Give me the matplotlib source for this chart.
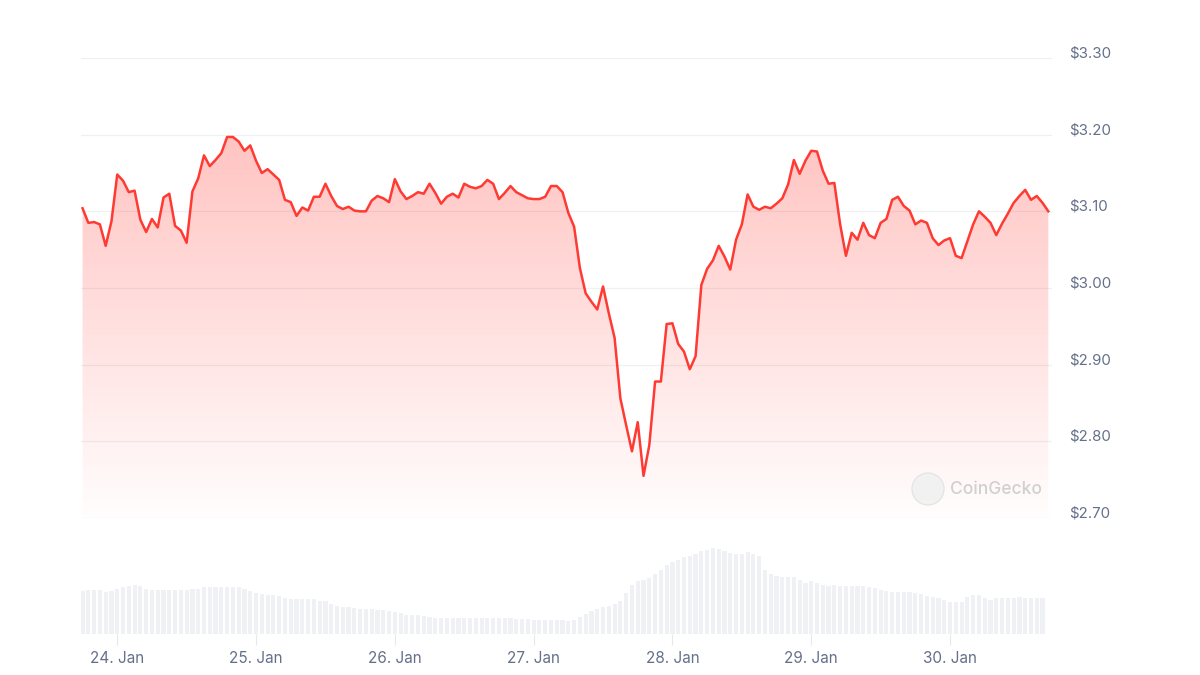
import numpy as np
import pandas as pd
import matplotlib
matplotlib.use("Agg")
import matplotlib.pyplot as plt
import matplotlib.dates as mdates
import matplotlib.transforms as mtransforms
from matplotlib.patches import Ellipse
from matplotlib.colors import LinearSegmentedColormap

plt.rcParams['font.family'] = ['Inter', 'DejaVu Sans']

# hourly price (USD), starting 23 Jan 18:00
start = pd.Timestamp("2025-01-23 18:00")
prices = [
    3.104, 3.085, 3.086, 3.083, 3.055, 3.087, 3.148, 3.140, 3.125, 3.127,
    3.089, 3.073, 3.090, 3.079, 3.118, 3.123, 3.081, 3.075, 3.059, 3.126,
    3.143, 3.173, 3.159, 3.167, 3.176, 3.197, 3.197, 3.191, 3.179, 3.186,
    3.166, 3.150, 3.155, 3.148, 3.141, 3.115, 3.112, 3.094, 3.105, 3.101,
    3.119, 3.119, 3.136, 3.120, 3.107, 3.103, 3.106, 3.101, 3.100, 3.100,
    3.114, 3.120, 3.117, 3.112, 3.142, 3.126, 3.116, 3.120, 3.125, 3.123,
    3.136, 3.124, 3.110, 3.119, 3.123, 3.118, 3.136, 3.132, 3.130, 3.133,
    3.141, 3.136, 3.116, 3.124, 3.133, 3.125, 3.121, 3.117, 3.116, 3.116,
    3.119, 3.133, 3.133, 3.125, 3.098, 3.080, 3.026, 2.993, 2.982, 2.972,
    3.002, 2.967, 2.935, 2.856, 2.821, 2.787, 2.825, 2.755, 2.795, 2.878,
    2.878, 2.953, 2.954, 2.927, 2.917, 2.894, 2.911, 3.004, 3.025, 3.036,
    3.055, 3.041, 3.024, 3.063, 3.083, 3.122, 3.106, 3.102, 3.106, 3.104,
    3.110, 3.117, 3.135, 3.167, 3.149, 3.166, 3.179, 3.178, 3.153, 3.136,
    3.137, 3.083, 3.042, 3.072, 3.063, 3.085, 3.069, 3.065, 3.085, 3.090,
    3.115, 3.119, 3.107, 3.101, 3.083, 3.088, 3.085, 3.065, 3.056, 3.062,
    3.065, 3.042, 3.039, 3.061, 3.083, 3.100, 3.093, 3.085, 3.069, 3.084,
    3.097, 3.111, 3.120, 3.128, 3.115, 3.120, 3.111, 3.100,
]

# hourly volume (arbitrary units)
volumes = [
    42.7, 44.3, 44.3, 44.3, 41.7, 43.3, 45.3, 46.7, 47.7, 49.3,
    48.3, 45.3, 44.3, 44.3, 44.3, 44.3, 44.3, 44.3, 44.3, 45.3,
    45.3, 46.7, 46.7, 46.7, 46.7, 46.7, 46.7, 46.7, 45.3, 42.7,
    41.0, 40.3, 39.3, 39.3, 38.3, 36.0, 35.0, 35.0, 35.0, 35.0,
    35.0, 33.3, 32.7, 30.0, 28.3, 27.0, 27.0, 26.0, 25.0, 25.0,
    25.0, 23.7, 23.7, 22.7, 21.7, 21.0, 19.3, 19.3, 18.7, 17.7,
    17.0, 16.0, 16.0, 16.0, 16.0, 16.0, 16.0, 16.0, 16.0, 16.0,
    16.0, 16.0, 16.0, 16.0, 16.0, 15.0, 15.0, 15.0, 14.3, 14.3,
    14.3, 14.3, 14.3, 14.3, 13.3, 14.3, 17.0, 20.3, 23.3, 25.3,
    27.0, 27.7, 30.3, 33.3, 41.0, 48.7, 52.7, 53.7, 56.0, 60.3,
    64.3, 69.3, 71.7, 74.3, 77.0, 78.3, 80.3, 82.7, 84.3, 86.0,
    85.0, 82.7, 81.0, 80.3, 80.3, 81.7, 80.3, 77.7, 64.3, 60.0,
    58.3, 57.0, 57.0, 57.0, 54.3, 51.0, 52.7, 51.0, 49.3, 48.3,
    49.3, 48.3, 47.7, 48.3, 47.7, 47.7, 47.0, 46.0, 43.7, 42.7,
    42.0, 41.7, 41.7, 41.7, 41.0, 40.3, 37.7, 37.0, 36.0, 34.3,
    32.0, 31.7, 31.7, 37.0, 38.7, 38.7, 36.0, 34.3, 36.0, 36.0,
    36.0, 36.0, 37.0, 36.0, 36.0, 36.0, 36.0,
]

price_ticks = [2.70, 2.80, 2.90, 3.00, 3.10, 3.20, 3.30]

times = pd.date_range(start, periods=len(prices), freq="h")
vtimes = pd.date_range(start, periods=len(volumes), freq="h")

line_color = "#ff3a33"
text_color = "#64708a"
grid_color = "#eef0f3"

fig = plt.figure(figsize=(12, 6.75), dpi=100)
W, H = 1200, 675
ax = fig.add_axes([81 / W, 1 - 518 / H, (1052 - 81) / W, (518 - 58) / H])
axv = fig.add_axes([81 / W, 1 - 634 / H, (1052 - 81) / W, (634 - 540) / H], sharex=ax)

xmin = times[0] - pd.Timedelta(minutes=16)
xmax = times[-1] + pd.Timedelta(minutes=38)

# gradient fill under price line
ymin, ymax = 2.70, 3.30
cmap = LinearSegmentedColormap.from_list(
    "fade", [(1, 0.23, 0.2, 0.01), (1, 0.23, 0.2, 0.30)])
grad = np.linspace(0, 1, 256).reshape(-1, 1)
top = max(prices)
img = ax.imshow(grad, cmap=cmap, aspect="auto", origin="lower",
                extent=[mdates.date2num(xmin), mdates.date2num(xmax), ymin, top],
                zorder=1)
poly = ax.fill_between(times, prices, ymin, color="none", lw=0)
clip = poly.get_paths()[0]
img.set_clip_path(clip, transform=ax.transData)

ax.plot(times, prices, color=line_color, lw=1.8, zorder=3, solid_joinstyle="round")

ax.set_xlim(xmin, xmax)
ax.set_ylim(ymin, ymax)
for t in price_ticks:
    ax.axhline(t, color=grid_color, lw=0.9, zorder=0)
ax.set_yticks(price_ticks)
ax.set_yticklabels([f"${t:.2f}" for t in price_ticks])
ax.yaxis.tick_right()
ax.tick_params(axis="y", length=0, pad=17, labelsize=10.8, labelcolor=text_color)
offset = mtransforms.ScaledTranslation(-0.06, 6 / 100, fig.dpi_scale_trans)
for lab in ax.get_yticklabels():
    lab.set_transform(lab.get_transform() + offset)
ax.tick_params(axis="x", bottom=False, labelbottom=False)
for s in ax.spines.values():
    s.set_visible(False)

# volume bars
axv.bar(vtimes, volumes, width=0.72 / 24, color="#eff1f4", align="center", lw=0)
axv.set_ylim(0, 94)
axv.set_yticks([])
for s in axv.spines.values():
    s.set_visible(False)
axv.xaxis.set_major_locator(mdates.DayLocator())
axv.xaxis.set_major_formatter(mdates.DateFormatter("%d. %b"))
axv.tick_params(axis="x", length=8, width=0.8, color="#e6e8ec", pad=4,
                labelsize=11, labelcolor=text_color)

# watermark
fig.patches.append(Ellipse((928 / W, 1 - 489 / H), 32 / W, 32 / H,
                           transform=fig.transFigure,
                           facecolor="#f1f1f1", edgecolor="#e4e4e4", lw=1,
                           zorder=5, alpha=0.9))
fig.text(950 / W, 1 - 489 / H, "CoinGecko", color="#d0d0d0", fontsize=12.5,
         va="center", ha="left", fontweight="medium")

fig.savefig("out.png", dpi=100, facecolor="white")
